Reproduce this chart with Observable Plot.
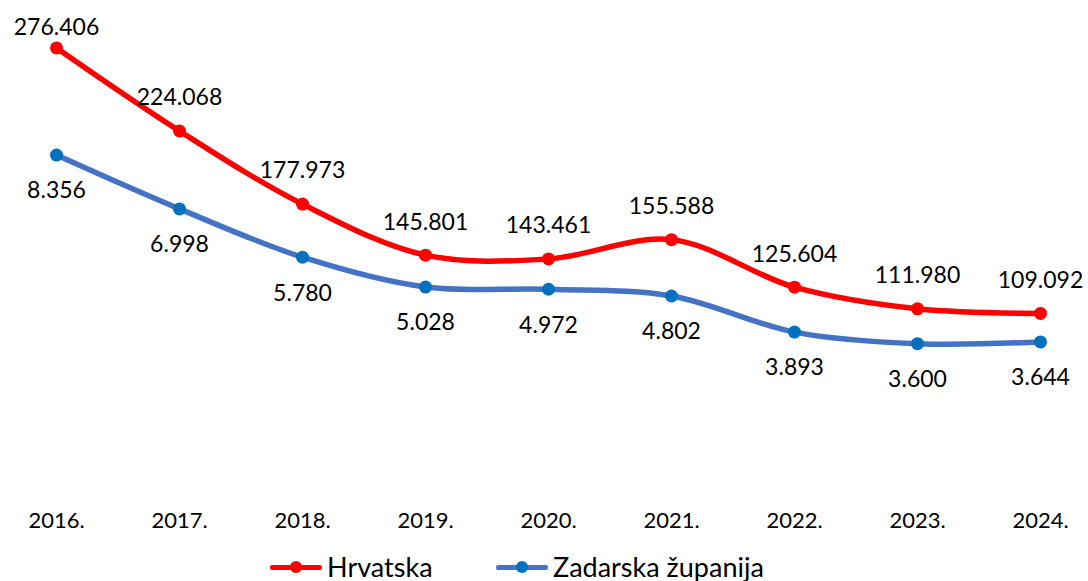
<!DOCTYPE html>
<html>
<head>
<meta charset="utf-8">
<script src="https://cdn.jsdelivr.net/npm/d3@7"></script>
<script src="https://cdn.jsdelivr.net/npm/@observablehq/plot@0.6"></script>
<style>
  html, body { margin: 0; padding: 0; background: #fff; }
  body { width: 1088px; height: 581px; overflow: hidden; font-family: Lato, "Open Sans", sans-serif; }
  #legend { height: 33px; font-size: 27px; color: #000; }
  .item { display: flex; align-items: center; position: absolute; top: 2px; }
  .sw { position: relative; width: 52px; height: 14px; margin-right: 5px; }
  .sw .ln { position: absolute; left: 0; right: 0; top: 5px; height: 5px; border-radius: 2px; }
  .sw .dot { position: absolute; left: 20px; top: 1px; width: 12px; height: 12px; border-radius: 50%; }
</style>
</head>
<body>
<div id="chart"></div>
<div id="legend" style="position:relative;">
  <div class="item" style="left:270px;"><div class="sw"><div class="ln" style="background:#FF0000"></div><div class="dot" style="background:#FF0000"></div></div><span>Hrvatska</span></div>
  <div class="item" style="left:496px;"><div class="sw"><div class="ln" style="background:#4472C4"></div><div class="dot" style="background:#0070C0"></div></div><span>Zadarska županija</span></div>
</div>
<script>
const years = ["2016.", "2017.", "2018.", "2019.", "2020.", "2021.", "2022.", "2023.", "2024."];
const hrvatska = [276406, 224068, 177973, 145801, 143461, 155588, 125604, 111980, 109092];
const zadarska = [8356, 6998, 5780, 5028, 4972, 4802, 3893, 3600, 3644];
const axisRatio = 25; // secondary axis 0–12.000 vs primary 0–300.000

const hr = years.map((y, i) => ({year: y, value: hrvatska[i], i}));
const zd = years.map((y, i) => ({year: y, value: zadarska[i], i}));

const loc = d3.formatLocale({decimal: ",", thousands: ".", grouping: [3], currency: ["", ""]});
const fmt = loc.format(",d");

const chart = Plot.plot({
  width: 1088,
  height: 548,
  marginTop: 10,
  marginBottom: 62,
  marginLeft: 55,
  marginRight: 47,
  style: {fontFamily: "Lato, 'Open Sans', sans-serif", background: "#fff"},
  x: {type: "point", domain: years, padding: 0, label: null},
  y: {domain: [0, 300000], axis: null},
  marks: [
    Plot.axisX({tickSize: 0, tickPadding: 26, fontSize: 22, label: null, color: "#000"}),
    Plot.line(zd, {x: "year", y: d => d.value * axisRatio, stroke: "#4472C4", strokeWidth: 5.5, curve: "catmull-rom"}),
    Plot.line(hr, {x: "year", y: "value", stroke: "#FF0000", strokeWidth: 5.5, curve: "catmull-rom"}),
    Plot.dot(zd, {x: "year", y: d => d.value * axisRatio, r: 6.5, fill: "#0070C0", stroke: null}),
    Plot.dot(hr, {x: "year", y: "value", r: 6.5, fill: "#FF0000", stroke: null}),
    Plot.text(hr.filter(d => d.i > 0), {x: "year", y: "value", text: d => fmt(d.value), dy: -33, fontSize: 23, fill: "#000"}),
    Plot.text(hr.filter(d => d.i === 0), {x: "year", y: "value", text: d => fmt(d.value), dy: -20, fontSize: 23, fill: "#000"}),
    Plot.text(zd, {x: "year", y: d => d.value * axisRatio, text: d => fmt(d.value), dy: 36, fontSize: 23, fill: "#000"})
  ]
});
document.getElementById("chart").appendChild(chart);
</script>
</body>
</html>
